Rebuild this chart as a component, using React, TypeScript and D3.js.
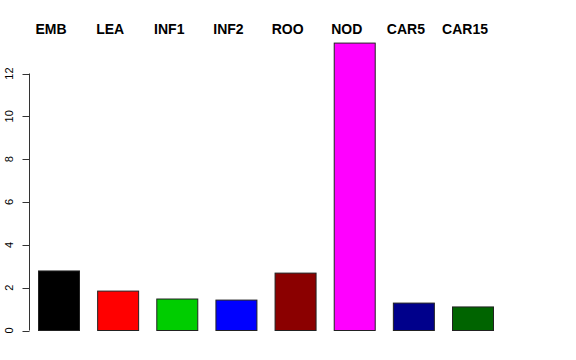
import React from "react";
import * as d3 from "d3";

const categories = ["EMB", "LEA", "INF1", "INF2", "ROO", "NOD", "CAR5", "CAR15"];
const values = [2.78, 1.84, 1.47, 1.42, 2.68, 13.42, 1.28, 1.1];
const colors = ["#000000", "#FF0000", "#00CD00", "#0000FF", "#8B0000", "#FF00FF", "#00008B", "#006400"];
const yTicks = [0, 2, 4, 6, 8, 10, 12];

export default function App() {
  const W = 576, H = 360;
  const x = d3.scaleBand<string>().domain(categories).range([38, 494]).paddingInner(0.29).paddingOuter(0);
  const y = d3.scaleLinear().domain([0, 12]).range([330.5, 73.5]);
  const axisX = 29.5;
  return (
    <svg width={W} height={H} style={{ position: "absolute", left: 0, top: 0, background: "#fff" }}
      fontFamily="'Liberation Sans', Arial, sans-serif">
      {categories.map((c, i) => (
        <rect key={c} x={x(c)! + 0.5} y={y(values[i])} width={x.bandwidth() - 1} height={y(0) - y(values[i])}
          fill={colors[i]} stroke="#222" strokeWidth={1} />
      ))}
      <line x1={axisX} x2={axisX} y1={y(12)} y2={y(0)} stroke="#333" strokeWidth={1} />
      {yTicks.map(t => (
        <g key={t}>
          <line x1={axisX - 7} x2={axisX} y1={Math.round(y(t)) + 0.5} y2={Math.round(y(t)) + 0.5} stroke="#333" strokeWidth={1} />
          <text transform={`translate(13, ${y(t)}) rotate(-90)`} textAnchor="middle" fontSize={11} fill="#000">{t}</text>
        </g>
      ))}
      {categories.map(c => (
        <text key={c} x={x(c)! + x.bandwidth() / 2 - 8} y={34} textAnchor="middle" fontSize={14} fontWeight="bold" fill="#000">{c}</text>
      ))}
    </svg>
  );
}
